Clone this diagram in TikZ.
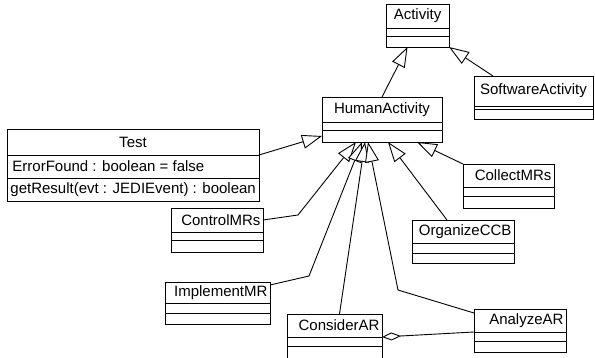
\documentclass[tikz,border=0pt]{standalone}
\usepackage{fontspec}
\setmainfont{Liberation Sans}
\usetikzlibrary{arrows.meta, positioning, calc}

\tikzset{
	classname/.style={draw, outer sep=0pt, inner ysep=0pt, inner xsep=2.5pt},
	compartment/.style={draw, outer sep=0pt, inner sep=0pt},
	member/.style={anchor=west, inner sep=0pt},
	generalize/.style={-{Triangle[length=20pt, width=14pt, fill=white]}},
	aggregate/.style={{Diamond[length=19pt, width=8pt, fill=white]}-}
}

% class box: [align], name, top left corner, width, three heights, title
\newcommand{\umlclass}[8][align=right]{%
	\node[classname, #1, anchor=north west, text width=#4pt-5pt, minimum height=#5pt] (#2) at #3 {#8};
	\node[compartment, minimum width=#4pt, minimum height=#6pt, below=0pt of #2] (#2-attr) {};
	\node[compartment, minimum width=#4pt, minimum height=#7pt, below=0pt of #2-attr] (#2-ops) {};
}

\begin{document}
\begin{tikzpicture}[x=1pt, y=-1pt, line width=0.9pt, font=\fontsize{15}{18}\selectfont]
	\useasboundingbox[fill=white] (0, 0) rectangle (595, 357);

	\umlclass[align=center]{Activity}{(386, 4)}{63}{24}{8}{11}{Activity}
	\umlclass[align=center]{SoftwareActivity}{(474, 76)}{119}{30}{3}{10}{SoftwareActivity}
	\umlclass[align=center]{HumanActivity}{(322, 97)}{120}{25}{8}{12}{HumanActivity}
	\umlclass[align=center]{Test}{(7, 129)}{252}{26}{23}{23}{Test}
	\node[member] (testAttr) at ($(Test-attr.west)+(5, 0)$) {ErrorFound : boolean = false};
	\node[member] (testOp) at ($(Test-ops.west)+(3, 0)$) {getResult(evt : JEDIEvent) : boolean};

	\umlclass{CollectMRs}{(463, 164)}{91}{23}{9}{12}{CollectMRs}
	\umlclass{ControlMRs}{(171, 208)}{92}{24}{8}{12}{ControlMRs}
	\umlclass{OrganizeCCB}{(412, 220)}{102}{23}{10}{10}{OrganizeCCB}
	\umlclass{ImplementMR}{(165, 282)}{105}{21}{10}{11}{ImplementMR}
	\umlclass{AnalyzeAR}{(474, 309)}{92}{23}{9}{11}{AnalyzeAR}
	\umlclass{ConsiderAR}{(287, 314)}{95}{23}{9}{16}{ConsiderAR}

	% bends
	\coordinate (bendControl) at (298, 215);
	\coordinate (bendImplement) at (309, 276);
	\coordinate (bendAnalyze) at (398, 290);

	\draw[generalize] (HumanActivity.north) -- ($(Activity-ops.south)+(-10, 0)$);
	\draw[generalize] ($(SoftwareActivity.north west)+(19, 0)$) -- (Activity-ops.south east);
	\draw[generalize] (Test.south east) -- (HumanActivity-ops.west);
	\draw[generalize] (ControlMRs.east) -- (bendControl) -- ($(HumanActivity-ops.south)+(-26, 0)$);
	\draw[generalize] ($(ImplementMR.north east)+(0, 3)$) -- (bendImplement) -- ($(HumanActivity-ops.south)+(-20, 0)$);
	\draw[generalize] ($(ConsiderAR.north)+(5, 0)$) -- ($(HumanActivity-ops.south)+(-17, 0)$);
	\draw[generalize] ($(AnalyzeAR.north west)+(0, 4)$) -- (bendAnalyze) -- ($(HumanActivity-ops.south)+(-14, 0)$);
	\draw[generalize] ($(OrganizeCCB.north west)+(35, 0)$) -- ($(HumanActivity-ops.south)+(6, 0)$);
	\draw[generalize] (CollectMRs.north west) -- ($(HumanActivity-ops.south)+(35, 0)$);
	\draw[aggregate] (ConsiderAR.south east) -- (AnalyzeAR.south west);
\end{tikzpicture}
\end{document}
